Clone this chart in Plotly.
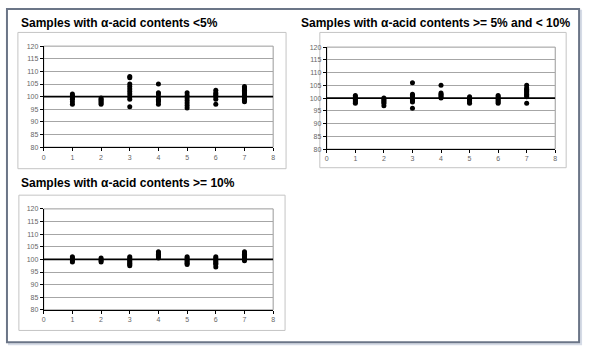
import plotly.graph_objects as go

W, H = 593, 356

# ---------------- data ----------------
titles = [
    "Samples with \u03b1-acid contents <5%",
    "Samples with \u03b1-acid contents >= 5% and < 10%",
    "Samples with \u03b1-acid contents >= 10%",
]

ref_value = 100
x_ticks = [0, 1, 2, 3, 4, 5, 6, 7, 8]
y_ticks = [80, 85, 90, 95, 100, 105, 110, 115, 120]

p1_x1 = [97, 98, 99, 99.5, 100, 100.5, 101]
p1_x2 = [97, 97.5, 98, 98.5, 99, 99.5]
p1_x3 = [96, 99, 100, 101, 102, 103, 104, 105, 107.5, 108]
p1_x4 = [97, 98, 98.5, 99, 100, 101, 101.5, 105]
p1_x5 = [95.5, 96.5, 97.5, 98.5, 99.5, 100.5, 101.5]
p1_x6 = [97, 99, 100, 100.5, 101, 101.5, 102.5]
p1_x7 = [98, 98.5, 99, 99.5, 100, 100.5, 101, 101.5, 102, 102.5, 103, 103.5, 104]

p2_x1 = [98, 98.5, 99, 99.5, 100, 100.5, 101]
p2_x2 = [97, 98, 98.5, 99, 99.5, 100]
p2_x3 = [96, 98.5, 99, 99.5, 100.5, 101, 101.5, 106]
p2_x4 = [100, 100.5, 101, 101.5, 102, 105]
p2_x5 = [98, 98.5, 99, 99.5, 100, 100.5]
p2_x6 = [98, 98.5, 99, 99.5, 100, 100.5, 101]
p2_x7 = [98, 100.5, 101, 101.5, 102, 102.5, 103, 103.5, 104, 105]

p3_x1 = [99, 99.5, 100, 100.5, 101]
p3_x2 = [99, 99.5, 100, 100.5]
p3_x3 = [97.5, 98, 98.5, 99, 99.5, 100, 100.5, 101]
p3_x4 = [100.5, 101, 101.5, 102, 102.5, 103]
p3_x5 = [98, 98.5, 99, 99.5, 100, 100.5, 101]
p3_x6 = [97, 98, 98.5, 99, 99.5, 100, 100.5, 101]
p3_x7 = [99.5, 100, 100.5, 101, 101.5, 102, 102.5, 103]

panels = [
    [p1_x1, p1_x2, p1_x3, p1_x4, p1_x5, p1_x6, p1_x7],
    [p2_x1, p2_x2, p2_x3, p2_x4, p2_x5, p2_x6, p2_x7],
    [p3_x1, p3_x2, p3_x3, p3_x4, p3_x5, p3_x6, p3_x7],
]

# ---------------- layout geometry (pixels) ----------------
plot_boxes = [(42, 43, 273, 146), (327, 44, 557, 148), (42, 209, 273, 312)]
chart_boxes = [(16, 29, 286, 168), (320, 29, 568, 167), (17, 195, 285, 333)]
title_pos = [(17, 19), (299, 19), (17, 183)]


def px(x):
    return x / W


def py(y):
    return 1 - y / H


fig = go.Figure()
layout = dict(
    width=W, height=H, margin=dict(l=0, r=0, t=0, b=0),
    paper_bgcolor="white", plot_bgcolor="white", showlegend=False,
    font=dict(family="Arial, Liberation Sans, sans-serif"),
)
shapes = []
annotations = []

# outer frame with light shadow
shapes.append(dict(type="rect", xref="paper", yref="paper",
                   x0=px(7), y0=py(347), x1=px(583), y1=py(7),
                   line=dict(color="#d5dbe6", width=2), layer="below"))
shapes.append(dict(type="rect", xref="paper", yref="paper",
                   x0=px(5), y0=py(345), x1=px(581), y1=py(5),
                   line=dict(color="#6b7587", width=2), fillcolor="white", layer="below"))

for i, groups in enumerate(panels):
    n = "" if i == 0 else str(i + 1)
    xa, ya = "x" + n, "y" + n
    x0, y0, x1, y1 = plot_boxes[i]
    # chart box
    cx0, cy0, cx1, cy1 = chart_boxes[i]
    shapes.append(dict(type="rect", xref="paper", yref="paper",
                       x0=px(cx0), y0=py(cy1), x1=px(cx1), y1=py(cy0),
                       line=dict(color="#c4c4c4", width=1), layer="below"))
    # plot area border (gray)
    shapes.append(dict(type="rect", xref=xa + " domain", yref=ya + " domain",
                       x0=0, y0=0, x1=1, y1=1,
                       line=dict(color="#9a9a9a", width=1), layer="below"))
    tx, ty = title_pos[i]
    annotations.append(dict(text="<b>" + titles[i] + "</b>", xref="paper", yref="paper",
                            x=px(tx), y=py(ty), xanchor="left", yanchor="middle",
                            showarrow=False, font=dict(size=12, color="black")))

    # reference line
    fig.add_trace(go.Scatter(x=[x_ticks[0], x_ticks[-1]], y=[ref_value, ref_value],
                             mode="lines", line=dict(color="black", width=1.6),
                             xaxis=xa, yaxis=ya, hoverinfo="skip"))
    xs, ys = [], []
    for k, vals in enumerate(groups):
        xs += [k + 1] * len(vals)
        ys += vals
    fig.add_trace(go.Scatter(x=xs, y=ys, mode="markers",
                             marker=dict(color="black", size=5),
                             xaxis=xa, yaxis=ya))

    ax = dict(domain=[px(x0), px(x1)], range=[x_ticks[0], x_ticks[-1]],
              tickvals=x_ticks, showgrid=False, zeroline=False,
              showline=True, linecolor="black", linewidth=1,
              ticks="outside", ticklen=3, tickcolor="black",
              tickfont=dict(size=7, color="#666666"), anchor=ya, fixedrange=True)
    ay = dict(domain=[py(y1), py(y0)], range=[y_ticks[0], y_ticks[-1]],
              tickvals=y_ticks, showgrid=True, gridcolor="#a6a6a6", gridwidth=1,
              zeroline=False, showline=True, linecolor="black", linewidth=1,
              ticks="outside", ticklen=3, tickcolor="black",
              tickfont=dict(size=7, color="#666666"), anchor=xa, fixedrange=True)
    layout["xaxis" + n] = ax
    layout["yaxis" + n] = ay

layout["shapes"] = shapes
layout["annotations"] = annotations
fig.update_layout(**layout)
fig.write_html("out.html", config={"displayModeBar": False},
               post_script="document.body.style.margin='0';document.body.style.overflow='hidden';")
